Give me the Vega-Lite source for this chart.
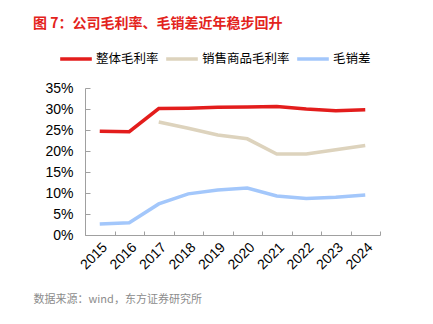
{
  "$schema": "https://vega.github.io/schema/vega-lite/v6.json",
  "autosize": {"type": "none"},
  "width": 295,
  "height": 147,
  "padding": {"left": 85, "top": 88, "right": 53, "bottom": 89},
  "background": "white",
  "title": {
    "text": "图 7：公司毛利率、毛销差近年稳步回升",
    "anchor": "start",
    "frame": "group",
    "dx": -52,
    "offset": 10,
    "color": "#e3231c",
    "fontSize": 14,
    "fontWeight": "bold",
    "font": "Noto Sans CJK SC"
  },
  "data": {
    "values": [
      {"year": "2015", "series": "整体毛利率", "value": 0.247},
      {"year": "2016", "series": "整体毛利率", "value": 0.246},
      {"year": "2017", "series": "整体毛利率", "value": 0.301},
      {"year": "2018", "series": "整体毛利率", "value": 0.302},
      {"year": "2019", "series": "整体毛利率", "value": 0.304},
      {"year": "2020", "series": "整体毛利率", "value": 0.305},
      {"year": "2021", "series": "整体毛利率", "value": 0.306},
      {"year": "2022", "series": "整体毛利率", "value": 0.300},
      {"year": "2023", "series": "整体毛利率", "value": 0.296},
      {"year": "2024", "series": "整体毛利率", "value": 0.298},
      {"year": "2017", "series": "销售商品毛利率", "value": 0.269},
      {"year": "2018", "series": "销售商品毛利率", "value": 0.254},
      {"year": "2019", "series": "销售商品毛利率", "value": 0.238},
      {"year": "2020", "series": "销售商品毛利率", "value": 0.229},
      {"year": "2021", "series": "销售商品毛利率", "value": 0.193},
      {"year": "2022", "series": "销售商品毛利率", "value": 0.193},
      {"year": "2023", "series": "销售商品毛利率", "value": 0.203},
      {"year": "2024", "series": "销售商品毛利率", "value": 0.213},
      {"year": "2015", "series": "毛销差", "value": 0.026},
      {"year": "2016", "series": "毛销差", "value": 0.029},
      {"year": "2017", "series": "毛销差", "value": 0.074},
      {"year": "2018", "series": "毛销差", "value": 0.098},
      {"year": "2019", "series": "毛销差", "value": 0.107},
      {"year": "2020", "series": "毛销差", "value": 0.112},
      {"year": "2021", "series": "毛销差", "value": 0.093},
      {"year": "2022", "series": "毛销差", "value": 0.087},
      {"year": "2023", "series": "毛销差", "value": 0.090},
      {"year": "2024", "series": "毛销差", "value": 0.095}
    ]
  },
  "mark": {"type": "line", "strokeWidth": 3.5, "strokeCap": "butt"},
  "encoding": {
    "x": {
      "field": "year",
      "type": "ordinal",
      "scale": {"type": "band", "paddingInner": 0, "paddingOuter": 0},
      "axis": {
        "title": "数据来源：wind，东方证券研究所",
        "titleFont": "Noto Sans CJK SC",
        "titleFontSize": 11,
        "titleFontWeight": "normal",
        "titleColor": "#8c8c8c",
        "titleAnchor": "start",
        "titleAlign": "left",
        "titleBaseline": "middle",
        "titleX": -52,
        "titleY": 64,
        "labelAngle": -45,
        "labelFont": "Liberation Sans",
        "labelFontSize": 14,
        "labelColor": "#000000",
        "labelPadding": 9,
        "tickBand": "extent",
        "tickSize": -4,
        "tickColor": "#a0a0a0",
        "domainColor": "#a0a0a0",
        "grid": false
      }
    },
    "y": {
      "field": "value",
      "type": "quantitative",
      "scale": {"domain": [0, 0.35]},
      "axis": {
        "title": null,
        "format": ".0%",
        "values": [0, 0.05, 0.1, 0.15, 0.2, 0.25, 0.3, 0.35],
        "labelFont": "Liberation Sans",
        "labelFontSize": 14,
        "labelColor": "#000000",
        "labelPadding": 17,
        "tickSize": -5,
        "tickColor": "#a0a0a0",
        "domainColor": "#a0a0a0",
        "grid": false
      }
    },
    "color": {
      "field": "series",
      "type": "nominal",
      "scale": {
        "domain": ["整体毛利率", "销售商品毛利率", "毛销差"],
        "range": ["#e31d1c", "#ddd3bd", "#a3c7fb"]
      },
      "legend": {
        "title": null,
        "orient": "none",
        "legendX": -27,
        "legendY": -47,
        "direction": "horizontal",
        "symbolType": "stroke",
        "symbolSize": 1000,
        "symbolStrokeWidth": 3.5,
        "labelFont": "Noto Sans CJK SC",
        "labelFontSize": 12.5,
        "labelColor": "#000000",
        "labelOffset": 2,
        "columnPadding": 0,
        "labelLimit": 200
      }
    }
  },
  "config": {"view": {"stroke": null}}
}
